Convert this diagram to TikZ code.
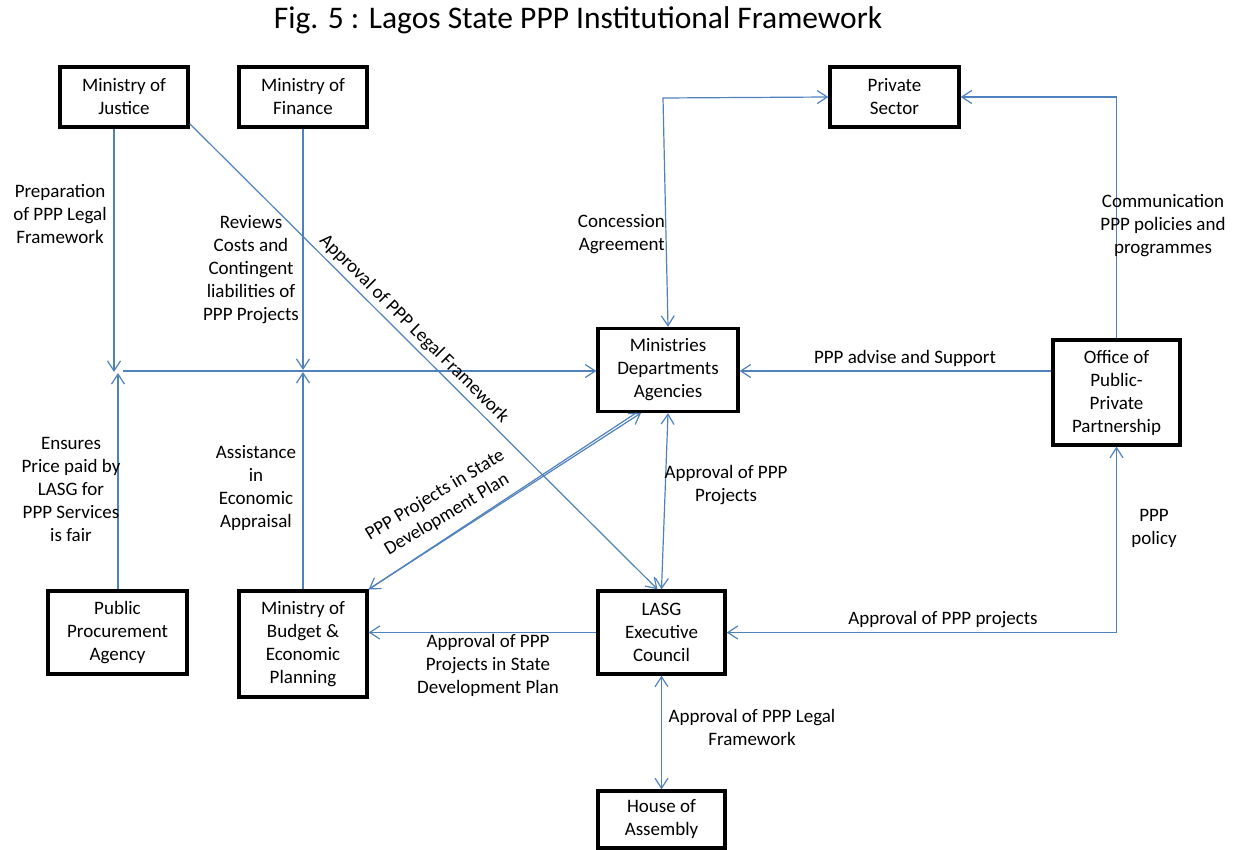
\documentclass[tikz,border=0pt]{standalone}
\usepackage{fontspec}
\setmainfont{Carlito}
\usetikzlibrary{arrows.meta,calc}
\definecolor{linkblue}{RGB}{79,129,189}
\tikzset{
  box/.style={draw=black, line width=3.4pt, align=center, inner sep=0pt,
    font=\fontsize{19}{23}\selectfont},
  lbl/.style={align=center, inner sep=0pt, font=\fontsize{19}{23}\selectfont},
  conn/.style={draw=linkblue, line width=1.2pt},
  >={Straight Barb[length=10pt,width=13pt,line width=1.2pt]}
}
\begin{document}
\begin{tikzpicture}[x=1pt,y=-1pt]
\useasboundingbox (0,0) rectangle (1236,850);
% title
\node[font=\fontsize{31.5}{36}\selectfont, inner sep=0pt] (title) at (578,20) {Fig. 5 : Lagos State PPP Institutional Framework};
% boxes
\node[box, minimum width=128pt, minimum height=60pt] (jus) at (124,97) {Ministry of\\Justice};
\node[box, minimum width=128pt, minimum height=60pt] (fin) at (303,97) {Ministry of\\Finance};
\node[box, minimum width=129pt, minimum height=60pt] (ps) at (894.5,97) {Private\\Sector};
\node[box, minimum width=140pt, minimum height=83pt] (mda) at (668,370) {Ministries\\Departments\\Agencies};
\node[box, minimum width=127pt, minimum height=105pt] (opp) at (1116.5,392.5) {Office of\\Public-\\Private\\Partnership};
\node[box, minimum width=139pt, minimum height=83pt] (ppa) at (117.5,632.5) {Public\\Procurement\\Agency};
\node[box, minimum width=128pt, minimum height=106pt] (bud) at (303,644) {Ministry of\\Budget \&\\Economic\\Planning};
\node[box, minimum width=127pt, minimum height=83pt] (lasg) at (661.5,632.5) {LASG\\Executive\\Council};
\node[box, minimum width=127pt, minimum height=57pt] (house) at (661.5,819.5) {House of\\Assembly};
% junction coordinates
\coordinate (jmeet) at (114,372);
\coordinate (pmeet) at (118,373);
\coordinate (hstart) at (123,371);
\coordinate (fmeet) at (303,370);
\coordinate (bmeet) at (303,372);
\coordinate (ccorner) at (663,98);
\coordinate (m1) at (641,413);
\coordinate (m2) at (636,413);
% connectors
\draw[conn,->] (jus.south -| jmeet) -- (jmeet);
\draw[conn,->] (ppa.north -| pmeet) -- (pmeet);
\draw[conn,->] (hstart) -- (hstart -| mda.west);
\draw[conn,->] (fin.south) -- (fmeet);
\draw[conn,->] (bud.north) -- (bmeet);
\draw[conn,->] ([yshift=5pt]jus.south east) -- ([xshift=-4pt]lasg.north);
\draw[conn,<->] (mda.south) -- (lasg.north);
\draw[conn,->] (bud.north east) -- (m1);
\draw[conn,->] (m2) -- (bud.north east);
\draw[conn,<->] (mda.north) -- (ccorner) -- (ps.west);
\draw[conn,->] (opp.north) |- (ps.east);
\draw[conn,->] (opp.west |- hstart) -- (hstart -| mda.east);
\draw[conn,<->] (lasg.east) -| (opp.south);
\draw[conn,->] (lasg.west) -- (lasg.west -| bud.east);
\draw[conn,<->] (lasg.south) -- (house.north);
% labels
\node[lbl] (l1) at (60,214) {Preparation\\of PPP Legal\\Framework};
\node[lbl] (l2) at (251,269.5) {Reviews\\Costs and\\Contingent\\liabilities of\\PPP Projects};
\node[lbl, rotate=-44.8] (l3) at (414,329) {Approval of PPP Legal Framework};
\node[lbl] (l4) at (71,489.5) {Ensures\\Price paid by\\LASG for\\PPP Services\\is fair};
\node[lbl] (l5) at (256,488) {Assistance\\in\\Economic\\Appraisal};
\node[lbl, rotate=31] (l6) at (441,505) {PPP Projects in State\\Development Plan};
\node[lbl, align=right, anchor=east] (l7) at (665,234) {Concession\\Agreement};
\node[lbl] (l8) at (1163,226) {Communication\\PPP policies and\\programmes};
\node[lbl] (l9) at (905,358) {PPP advise and Support};
\node[lbl] (l10) at (726,485.5) {Approval of PPP\\Projects};
\node[lbl] (l11) at (1154,528) {PPP\\policy};
\node[lbl] (l12) at (943,620) {Approval of PPP projects};
\node[lbl] (l13) at (488,665) {Approval of PPP\\Projects in State\\Development Plan};
\node[lbl] (l14) at (752,727.5) {Approval of PPP Legal\\Framework};
\end{tikzpicture}
\end{document}
